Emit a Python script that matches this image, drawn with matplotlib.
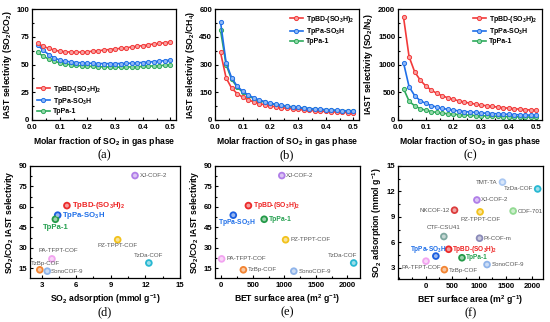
import numpy as np
import matplotlib
matplotlib.use("Agg")
import matplotlib.pyplot as plt
from matplotlib.ticker import AutoMinorLocator

plt.rcParams['font.family'] = ['Liberation Sans', 'DejaVu Sans']
plt.rcParams['font.weight'] = 'bold'
plt.rcParams['axes.labelweight'] = 'bold'
plt.rcParams['mathtext.default'] = 'regular'

# ---------------- data ----------------
x_frac = [0.02, 0.04, 0.06, 0.08, 0.10, 0.12, 0.14, 0.16, 0.18, 0.20, 0.22, 0.24, 0.26,
          0.28, 0.30, 0.32, 0.34, 0.36, 0.38, 0.40, 0.42, 0.44, 0.46, 0.48, 0.50]

series_names = ['TpBD-(SO$_3$H)$_2$', 'TpPa-SO$_3$H', 'TpPa-1']

co2_tpbd = [69, 66.5, 64.5, 63, 62, 61.5, 61.2, 61, 61.2, 61.5, 62, 62.5, 63, 63.5, 64,
            64.5, 65, 65.8, 66.5, 67, 67.8, 68.5, 69, 69.6, 70.2]
co2_so3h = [67.5, 63, 59, 56, 54, 53, 52.3, 51.8, 51.5, 51.2, 51, 50.9, 50.8, 50.8, 50.8,
            50.9, 51, 51.2, 51.5, 51.8, 52.2, 52.6, 53, 53.5, 54]
co2_tppa = [61, 57.5, 55, 53, 51.5, 50.5, 49.8, 49.2, 48.8, 48.5, 48.2, 48, 47.8, 47.7,
            47.6, 47.6, 47.7, 47.8, 48, 48.2, 48.5, 48.8, 49, 49.3, 49.6]

ch4_tpbd = [365, 228, 172, 143, 123, 109, 98, 89, 82, 76, 71, 67, 63, 60, 57, 54.5, 52,
            50, 48, 46, 44.5, 43, 41.5, 40, 39]
ch4_so3h = [530, 310, 228, 183, 155, 135, 120, 108, 99, 91, 85, 80, 75, 71, 68, 65, 62,
            60, 58, 56, 54, 52.5, 51, 49.5, 48]
ch4_tppa = [485, 300, 220, 178, 150, 131, 116, 105, 96, 89, 83, 78, 73, 69, 66, 63, 60.5,
            58, 56, 54, 52.5, 51, 49.5, 48, 47]

n2_tpbd = [1850, 1140, 870, 720, 615, 540, 480, 435, 400, 370, 345, 322, 303, 286, 270,
           256, 244, 232, 222, 212, 203, 195, 187, 180, 173]
n2_so3h = [1030, 600, 440, 350, 300, 260, 232, 210, 192, 177, 164, 153, 144, 136, 128,
           122, 116, 111, 106, 101, 97, 93, 90, 87, 84]
n2_tppa = [565, 340, 255, 205, 175, 152, 136, 123, 112, 104, 97, 91, 85, 80, 76, 72, 69,
           66, 63, 60, 58, 56, 54, 52, 50]

# scatter data
mat_names = ['XJ-COF-2', 'TpBD-(SO$_3$H)$_2$', 'TpPa-SO$_3$H', 'TpPa-1', 'PZ-TPPT-COF',
             'TzDa-COF', 'PA-TFPT-COF', 'TzBp-COF', 'SonoCOF-9']
mat_so2 = [11.1, 5.2, 4.4, 4.2, 9.6, 12.3, 3.9, 2.85, 3.5]
mat_sel = [83, 61, 54, 51, 36, 19, 22, 14, 13]
mat_bet = [960, 430, 190, 680, 1020, 2100, 5, 350, 1150]

f_names = ['TMT-TA', 'TzDa-COF', 'XJ-COF-2', 'NKCOF-12', 'PZ-TPPT-COF', 'COF-701',
           'CTF-CSU41', 'PI-COF-m', 'TpPa-SO$_3$H', 'TpBD-(SO$_3$H)$_2$', 'TpPa-1',
           'PA-TFPT-COF', 'TzBp-COF', 'SonoCOF-9']
f_bet = [1440, 2100, 960, 540, 1020, 1640, 340, 1010, 190, 430, 680, 5, 350, 1150]
f_so2 = [13.1, 12.3, 11.0, 9.8, 9.6, 9.7, 6.7, 6.5, 4.4, 5.2, 4.2, 3.8, 2.8, 3.4]

# ---------------- styles ----------------
line_colors = ['#f23a3a', '#1f6fe8', '#2eaa5c']
line_faces = ['#f9a0a0', '#8fb8f5', '#92d8a8']

mat_color = {'XJ-COF-2': '#b07ee8', 'TpBD-(SO$_3$H)$_2$': '#ec2a2a',
             'TpPa-SO$_3$H': '#1a5ee0', 'TpPa-1': '#249a48', 'PZ-TPPT-COF': '#f2c21c',
             'TzDa-COF': '#28b8d2', 'PA-TFPT-COF': '#f2a4f0', 'TzBp-COF': '#f28432',
             'SonoCOF-9': '#8fb4ea', 'TMT-TA': '#aac8f2', 'NKCOF-12': '#dc3c3c',
             'COF-701': '#92da92', 'CTF-CSU41': '#7fa8a0', 'PI-COF-m': '#8a8ab8'}
mat_textcolor = {'TpBD-(SO$_3$H)$_2$': '#ee2222', 'TpPa-SO$_3$H': '#1f6fe8',
                 'TpPa-1': '#25a050'}

TICK_FS = 5.6
LAB_FS = 6.2

W, H = 550, 322
fig = plt.figure(figsize=(W / 100, H / 100), dpi=100)


def px_axes(l, t, r, b):
    return fig.add_axes([l / W, 1 - b / H, (r - l) / W, (b - t) / H])


def style_axes(ax):
    ax.tick_params(direction='in', which='both', labelsize=TICK_FS, width=0.8, pad=2)
    ax.tick_params(axis='x', pad=3)
    ax.tick_params(which='major', length=2.5)
    ax.tick_params(which='minor', length=1.5)
    ax.xaxis.set_minor_locator(AutoMinorLocator(2))
    ax.yaxis.set_minor_locator(AutoMinorLocator(2))
    for s in ax.spines.values():
        s.set_linewidth(0.9)
    for lab in ax.get_xticklabels() + ax.get_yticklabels():
        lab.set_fontweight('bold')


line_axes = [px_axes(32, 9, 176, 120), px_axes(215, 9, 359, 120), px_axes(398, 9, 542, 120)]
line_data = [(co2_tpbd, co2_so3h, co2_tppa), (ch4_tpbd, ch4_so3h, ch4_tppa),
             (n2_tpbd, n2_so3h, n2_tppa)]
ylabels = ['IAST selectivity (SO$_2$/CO$_2$)', 'IAST selectivity (SO$_2$/CH$_4$)',
           'IAST selectivity (SO$_2$/N$_2$)']
ylims = [(0, 100), (0, 600), (0, 2000)]
yticks = [[0, 25, 50, 75, 100], [0, 150, 300, 450, 600], [0, 500, 1000, 1500, 2000]]
legend_locs = ['lower left', 'upper right', 'upper right']
panel_lbl = ['(a)', '(b)', '(c)']

for i, ax in enumerate(line_axes):
    order = [2, 0, 1] if i == 1 else [2, 1, 0]
    handles = [None] * 3
    for k in order:
        h, = ax.plot(x_frac, line_data[i][k], '-o', color=line_colors[k], lw=1.2, ms=3.0,
                     mfc=line_faces[k], mec=line_colors[k], mew=0.7, label=series_names[k])
        handles[k] = h
    ax.set_xlim(0, 0.52)
    ax.set_ylim(*ylims[i])
    ax.set_xticks([0.0, 0.1, 0.2, 0.3, 0.4, 0.5])
    ax.set_yticks(yticks[i])
    ax.set_xlabel('Molar fraction of SO$_2$ in gas phase', fontsize=LAB_FS, labelpad=3)
    ax.set_ylabel(ylabels[i], fontsize=LAB_FS, labelpad=2)
    style_axes(ax)
    leg = ax.legend(handles=handles, loc=legend_locs[i], frameon=False,
                    prop={'size': 5.0, 'weight': 'bold'}, handlelength=1.9,
                    handletextpad=0.4, labelspacing=0.18, borderaxespad=0.3)
    ax.text(0.5, -0.265, panel_lbl[i], transform=ax.transAxes, ha='center', va='top',
            fontsize=9, family='Liberation Serif', fontweight='normal')


def sphere(ax, x, y, name):
    c = mat_color[name]
    ax.scatter([x], [y], s=30, color=c, edgecolors='none', zorder=3)
    ax.scatter([x], [y], s=8, color='white', alpha=0.55, edgecolors='none', zorder=4)


def label(ax, x, y, name, ha='left', va='center', big=5.6):
    if name in mat_textcolor:
        ax.text(x, y, name, color=mat_textcolor[name], fontsize=big, fontweight='bold',
                ha=ha, va=va, zorder=5)
    else:
        ax.text(x, y, name, color='#555555', fontsize=4.4, fontweight='normal',
                ha=ha, va=va, zorder=5)


# (d)
axd = px_axes(30, 166, 180, 278)
d_off = {'XJ-COF-2': (0.4, 0, 'left'), 'TpBD-(SO$_3$H)$_2$': (0.4, 0, 'left'),
         'TpPa-SO$_3$H': (0.4, 0, 'left'), 'TpPa-1': (0.0, -6.0, 'center'),
         'PZ-TPPT-COF': (0.0, -4.5, 'center'), 'TzDa-COF': (0.0, 5.2, 'center'),
         'PA-TFPT-COF': (0.55, 6.0, 'center'), 'TzBp-COF': (0.45, 4.8, 'center'),
         'SonoCOF-9': (0.3, 0, 'left')}
for n, xv, yv in zip(mat_names, mat_so2, mat_sel):
    sphere(axd, xv, yv, n)
    dx, dy, ha = d_off[n]
    label(axd, xv + dx, yv + dy, n, ha=ha, big=5.6)
axd.set_xlim(2.0, 14.9)
axd.set_ylim(8, 90)
axd.set_xticks([3, 6, 9, 12, 15])
axd.set_yticks([15, 30, 45, 60, 75, 90])
axd.set_xlabel('SO$_2$ adsorption (mmol g$^{-1}$)', fontsize=LAB_FS, labelpad=2)
axd.set_ylabel('SO$_2$/CO$_2$ IAST selectivity', fontsize=LAB_FS, labelpad=2)
style_axes(axd)

# (e)
axe = px_axes(215, 166, 360, 278)
e_off = {'XJ-COF-2': (70, 0, 'left'), 'TpBD-(SO$_3$H)$_2$': (70, 0, 'left'),
         'TpPa-SO$_3$H': (60, -5.0, 'center'), 'TpPa-1': (70, 0, 'left'),
         'PZ-TPPT-COF': (70, 0, 'left'), 'TzDa-COF': (50, 5.5, 'right'),
         'PA-TFPT-COF': (70, 0, 'left'), 'TzBp-COF': (70, 0, 'left'),
         'SonoCOF-9': (70, 0, 'left')}
for n, xv, yv in zip(mat_names, mat_bet, mat_sel):
    sphere(axe, xv, yv, n)
    dx, dy, ha = e_off[n]
    label(axe, xv + dx, yv + dy, n, ha=ha, big=4.9)
axe.set_xlim(-100, 2200)
axe.set_ylim(8, 90)
axe.set_xticks([0, 500, 1000, 1500, 2000])
axe.set_yticks([15, 30, 45, 60, 75, 90])
axe.set_xlabel('BET surface area (m$^2$ g$^{-1}$)', fontsize=LAB_FS, labelpad=2)
axe.set_ylabel('SO$_2$/CO$_2$ IAST selectivity', fontsize=LAB_FS, labelpad=2)
style_axes(axe)

# (f)
axf = px_axes(398, 166, 543, 279)
f_off = {'TMT-TA': (-90, 0, 'right'), 'TzDa-COF': (-90, 0, 'right'),
         'XJ-COF-2': (80, 0, 'left'), 'NKCOF-12': (-90, 0, 'right'),
         'PZ-TPPT-COF': (0, -0.9, 'center'), 'COF-701': (80, 0, 'left'),
         'CTF-CSU41': (0, 1.1, 'center'), 'PI-COF-m': (80, 0, 'left'),
         'TpPa-SO$_3$H': (205, 0.8, 'right'), 'TpBD-(SO$_3$H)$_2$': (70, 0, 'left'),
         'TpPa-1': (80, 0, 'left'), 'PA-TFPT-COF': (285, -0.8, 'right'),
         'TzBp-COF': (80, -0.05, 'left'), 'SonoCOF-9': (80, 0, 'left')}
for n, xv, yv in zip(f_names, f_bet, f_so2):
    sphere(axf, xv, yv, n)
    dx, dy, ha = f_off[n]
    label(axf, xv + dx, yv + dy, n, ha=ha, big=4.7)
axf.set_xlim(-520, 2200)
axf.set_ylim(1.7, 15)
axf.set_xticks([0, 500, 1000, 1500, 2000])
axf.set_yticks([3, 6, 9, 12, 15])
axf.set_xlabel('BET surface area (m$^2$ g$^{-1}$)', fontsize=LAB_FS, labelpad=2)
axf.set_ylabel('SO$_2$ adsorption (mmol g$^{-1}$)', fontsize=LAB_FS, labelpad=2)
style_axes(axf)

for ax, lbl in zip([axd, axe, axf], ['(d)', '(e)', '(f)']):
    ax.text(0.5, -0.25, lbl, transform=ax.transAxes, ha='center', va='top',
            fontsize=9, family='Liberation Serif', fontweight='normal')

fig.savefig('out.png', dpi=100)
